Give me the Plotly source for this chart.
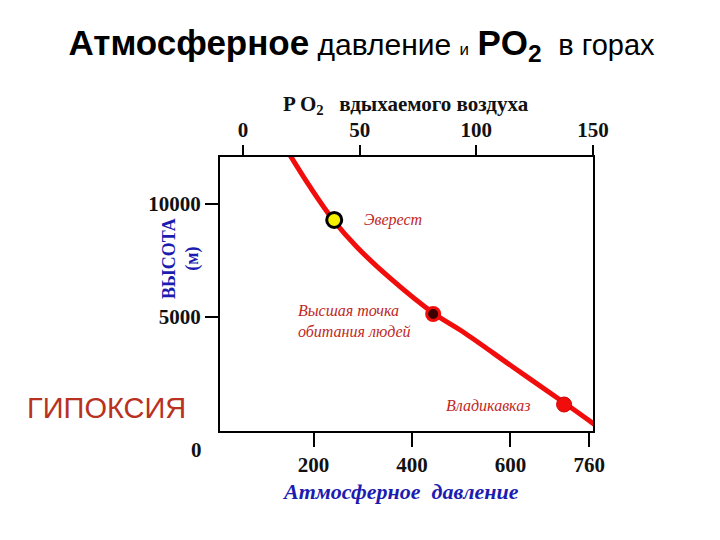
import plotly.graph_objects as go

# atmospheric pressure (mm Hg) vs altitude (m)
pressure = [152, 193, 240, 288, 355, 443, 504, 605, 707, 778]
altitude = [12168, 10753, 9293, 8098, 6727, 5178, 4338, 2789, 1241, 135]

point_names = ["Эверест", "Высшая точка обитания людей", "Владикавказ"]
point_pressure = [242, 443, 709]
point_altitude = [9293, 5134, 1130]

pressure_ticks = [200, 400, 600, 760]
altitude_ticks = [5000, 10000]
po2_ticks = [0, 50, 100, 150]

SERIF = "Liberation Serif"
SANS = "Liberation Sans"
RED = "#f20d0d"
LABEL_RED = "#c0281e"
BLUE = "#1c1cb0"

fig = go.Figure()

fig.add_trace(go.Scatter(
    x=pressure, y=altitude, mode="lines",
    line=dict(color=RED, width=5, shape="spline", smoothing=1),
    hoverinfo="skip",
))
# Everest
fig.add_trace(go.Scatter(
    x=point_pressure[:1], y=point_altitude[:1], mode="markers",
    marker=dict(size=15, color="#f4f000", line=dict(color="black", width=3)),
    hovertext=point_names[:1], hoverinfo="text",
))
# highest human settlement
fig.add_trace(go.Scatter(
    x=point_pressure[1:2], y=point_altitude[1:2], mode="markers",
    marker=dict(size=13, color="#3a0000", line=dict(color=RED, width=3)),
    hovertext=point_names[1:2], hoverinfo="text",
))
# Vladikavkaz
fig.add_trace(go.Scatter(
    x=point_pressure[2:], y=point_altitude[2:], mode="markers",
    marker=dict(size=15, color=RED, line=dict(color="#d00000", width=1)),
    hovertext=point_names[2:], hoverinfo="text",
))
# keeps the top PO2 axis alive
fig.add_trace(go.Scatter(
    x=po2_ticks, y=[None] * len(po2_ticks), xaxis="x2", mode="markers",
    hoverinfo="skip", showlegend=False,
))

tick_font = dict(family=SERIF, size=21, color="#111111", weight="bold")

# page body has an 8px margin, so the figure is 8px smaller each way
fig.update_layout(
    width=712, height=532, autosize=False,
    margin=dict(l=212, r=127, t=149, b=109),
    plot_bgcolor="white", paper_bgcolor="white",
    showlegend=False,
    title=dict(
        text=("<b><span style='font-size:35px'>Атмосферное</span></b> давление "
              "<span style='font-size:17px'>и</span> "
              "<b><span style='font-size:35px'>PO<sub>2</sub></span></b>  "
              "<span style='font-size:29px'>в горах</span>"),
        font=dict(family=SANS, size=30, color="black"),
        x=0.4965, xanchor="center", y=0.932, yanchor="middle",
    ),
    xaxis=dict(
        range=[10, 767.7], tickvals=pressure_ticks, ticks="outside",
        ticklen=14, tickwidth=2, tickcolor="black",
        showline=True, linecolor="black", linewidth=2, mirror=True,
        showgrid=False, zeroline=False, tickfont=tick_font,
    ),
    xaxis2=dict(
        overlaying="x", side="top", range=[-9.86, 150],
        tickvals=po2_ticks, ticks="outside", ticklen=11, tickwidth=2,
        tickcolor="black", showline=False, showgrid=False, zeroline=False,
        tickfont=tick_font,
    ),
    yaxis=dict(
        range=[-42, 12079], tickvals=altitude_ticks, tickformat="d",
        ticks="outside", ticklen=13, tickwidth=2, tickcolor="black",
        showline=True, linecolor="black", linewidth=2, mirror=True,
        showgrid=False, zeroline=False, tickfont=tick_font,
    ),
)

label_font = dict(family=SERIF, size=16, color=LABEL_RED)
annotations = [
    dict(text="<i>Эверест</i>", x=298, y=9292, xref="x", yref="y",
         xanchor="left", yanchor="middle", showarrow=False, font=label_font),
    dict(text="<i>Высшая точка<br>обитания людей</i>", x=164, y=4824,
         xref="x", yref="y", xanchor="left", yanchor="middle", align="left",
         showarrow=False, font=label_font),
    dict(text="<i>Владикавказ</i>", x=465, y=1108, xref="x", yref="y",
         xanchor="left", yanchor="middle", showarrow=False, font=label_font),
    dict(text="<b>0</b>", x=-0.062, y=-0.069, xref="paper", yref="paper",
         xanchor="center", yanchor="middle", showarrow=False, font=tick_font),
    dict(text="<b>P O<sub>2</sub>   вдыхаемого воздуха</b>", x=0.499, y=1.19,
         xref="paper", yref="paper", xanchor="center", yanchor="middle",
         showarrow=False, font=dict(family=SERIF, size=21, color="#111111")),
    dict(text="<b>ВЫСОТА<br>(м)</b>", x=-0.105, y=0.631, xref="paper",
         yref="paper", xanchor="center", yanchor="middle", textangle=-90,
         showarrow=False, font=dict(family=SERIF, size=18, color=BLUE)),
    dict(text="<b><i>Атмосферное  давление</i></b>", x=0.483, y=-0.219,
         xref="paper", yref="paper", xanchor="center", yanchor="middle",
         showarrow=False, font=dict(family=SERIF, size=22, color=BLUE)),
    dict(text="ГИПОКСИЯ", x=-0.303, y=0.084, xref="paper", yref="paper",
         xanchor="center", yanchor="middle", showarrow=False,
         font=dict(family=SANS, size=29, color="#b8321f")),
]
fig.update_layout(annotations=annotations)

fig.write_html("out.html")
